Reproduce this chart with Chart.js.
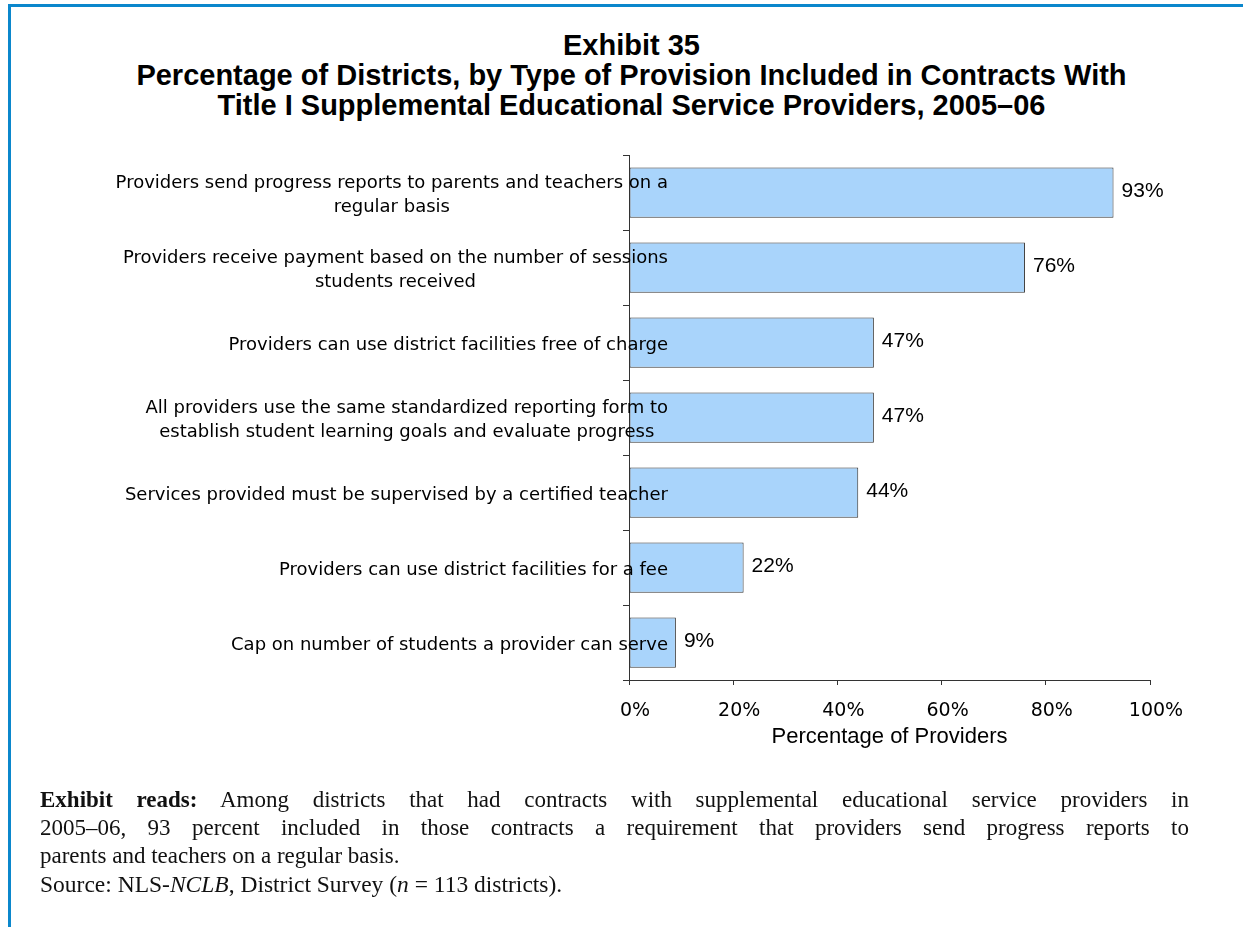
<!DOCTYPE html>
<html>
<head>
<meta charset="utf-8">
<script src="https://cdn.jsdelivr.net/npm/chart.js@4"></script>
<style>
html,body{margin:0;padding:0;background:#fff;}
body{width:1243px;height:927px;position:relative;overflow:hidden;}
#frameTop{position:absolute;left:8px;top:4px;width:1235px;height:3px;background:#0b87cc;}
#frameLeft{position:absolute;left:8px;top:4px;width:3px;height:923px;background:#0b87cc;}
#title{position:absolute;left:20px;top:30px;width:1223px;text-align:center;font:bold 29px "Liberation Sans",Arial,sans-serif;line-height:30px;color:#000;white-space:nowrap;}
#chart{position:absolute;left:0;top:0;}
#note{position:absolute;left:40px;top:786px;width:1149px;font:23px "Liberation Serif","Times New Roman",serif;line-height:28px;color:#111;white-space:nowrap;}
#note .j{text-align:justify;text-align-last:justify;}
#src{font-size:23.5px;}
</style>
</head>
<body>
<div id="frameTop"></div>
<div id="frameLeft"></div>
<div id="title">Exhibit 35<br>Percentage of Districts, by Type of Provision Included in Contracts With<br>Title I Supplemental Educational Service Providers, 2005–06</div>
<canvas id="chart" width="1243" height="927"></canvas>
<div id="note">
<div class="j"><b>Exhibit reads:</b> Among districts that had contracts with supplemental educational service providers in</div>
<div class="j">2005–06, 93 percent included in those contracts a requirement that providers send progress reports to</div>
<div>parents and teachers on a regular basis.</div>
<div id="src">Source: NLS-<i>NCLB</i>, District Survey (<i>n</i> = 113 districts).</div>
</div>
<script>
const categories = [
  ["Providers send progress reports to parents and teachers on a", "regular basis"],
  ["Providers receive payment based on the number of sessions", "students received"],
  ["Providers can use district facilities free of charge"],
  ["All providers use the same standardized reporting form to", "establish student learning goals and evaluate progress"],
  ["Services provided must be supervised by a certified teacher"],
  ["Providers can use district facilities for a fee"],
  ["Cap on number of students a provider can serve"]
];
const shares = [93, 76, 47, 47, 44, 22, 9];
const xTickValues = [0, 20, 40, 60, 80, 100];
const xAxisTitle = "Percentage of Providers";

const categoryLabels = {
  id: 'categoryLabels',
  afterDraw(chart) {
    const ys = chart.scales.y;
    const ctx = chart.ctx;
    ctx.save();
    ctx.font = '18px "DejaVu Sans", sans-serif';
    ctx.fillStyle = '#000';
    ctx.textAlign = 'center';
    ctx.textBaseline = 'middle';
    const right = 668, lh = 24, dy = 2.5;
    categories.forEach((lines, i) => {
      const yc = ys.getPixelForValue(i) + dy;
      const w = Math.max(...lines.map(l => ctx.measureText(l).width));
      const cx = right - w / 2;
      lines.forEach((l, k) => ctx.fillText(l, cx, yc + (k - (lines.length - 1) / 2) * lh));
    });
    ctx.restore();
  }
};

const valueLabels = {
  id: 'valueLabels',
  afterDatasetsDraw(chart) {
    const ctx = chart.ctx;
    const meta = chart.getDatasetMeta(0);
    ctx.save();
    ctx.font = '21px "Liberation Sans", Arial, sans-serif';
    ctx.fillStyle = '#000';
    ctx.textAlign = 'left';
    ctx.textBaseline = 'middle';
    meta.data.forEach((bar, i) => {
      ctx.fillText(shares[i] + '%', bar.x + 8, bar.y - 1);
    });
    ctx.restore();
  }
};

new Chart(document.getElementById('chart'), {
  type: 'bar',
  data: {
    labels: categories,
    datasets: [{
      data: shares,
      backgroundColor: '#a9d4fb',
      borderColor: '#333',
      borderWidth: 1,
      borderSkipped: false,
      barPercentage: 0.67,
      categoryPercentage: 1
    }]
  },
  options: {
    indexAxis: 'y',
    responsive: false,
    animation: false,
    events: [],
    layout: { padding: { top: 155, right: 93, bottom: 177, left: 0 } },
    plugins: { legend: { display: false }, tooltip: { enabled: false }, title: { display: false } },
    scales: {
      y: {
        type: 'category',
        ticks: { display: false },
        grid: { display: true, offset: true, drawOnChartArea: false, drawTicks: true, tickLength: 6, color: '#333', lineWidth: 1 },
        border: { display: true, color: '#333', width: 1 },
        afterFit(s) { s.width = 629; }
      },
      x: {
        min: 0, max: 100,
        afterBuildTicks(s) { s.ticks = xTickValues.map(v => ({ value: v })); },
        ticks: {
          callback: v => v + '%',
          font: { family: '"DejaVu Sans", sans-serif', size: 19 },
          color: '#000',
          padding: 15,
          labelOffset: 6,
          maxRotation: 0,
          autoSkip: false
        },
        grid: { display: true, drawOnChartArea: false, drawTicks: true, tickLength: 5, color: '#333', lineWidth: 1 },
        border: { display: true, color: '#333', width: 1 },
        title: {
          display: true,
          text: xAxisTitle,
          color: '#000',
          font: { family: '"Liberation Sans", Arial, sans-serif', size: 22 },
          padding: { top: 0, bottom: 0 }
        },
        afterFit(s) { s.height = 70; }
      }
    }
  },
  plugins: [categoryLabels, valueLabels]
});
</script>
</body>
</html>
